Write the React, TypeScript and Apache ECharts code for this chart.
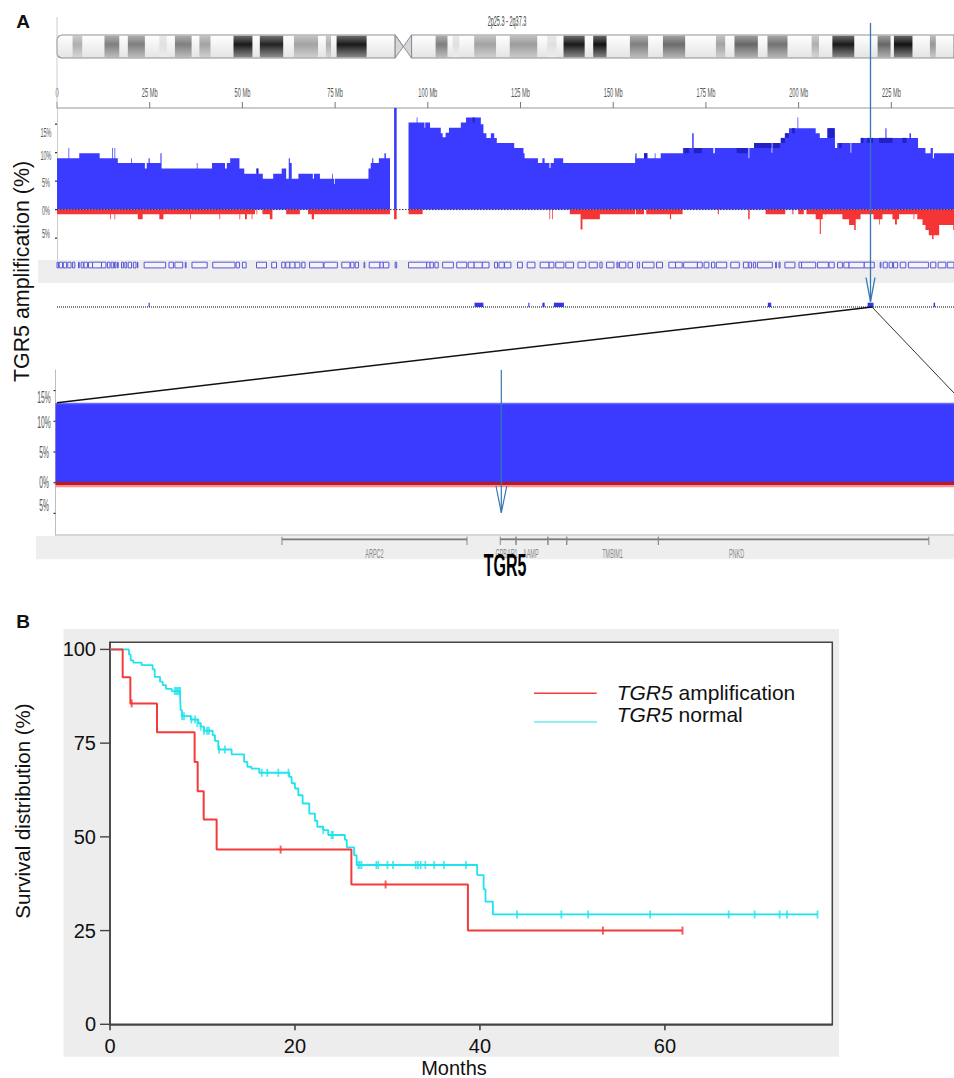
import React, { useEffect, useRef } from "react";
import * as echarts from "echarts";

// ---------- Panel A: whole chromosome (Mb, % of samples) ----------
const chromMaxMb = 241.9;
const rulerTicks = [0, 25, 50, 75, 100, 125, 150, 175, 200, 225];
const topPctTicks = [-5, 0, 5, 10, 15];
const topPctLabels = ["15%", "10%", "5%", "0%", "5%"];
const lowerPctLabels = ["15%", "10%", "5%", "0%", "5%"];

// [start Mb, end Mb, darkness]
const cytobands = [
  [4.2, 6.8, 0.3], [12.8, 16.8, 0.5], [19.1, 23.7, 0.5], [27.6, 29.6, 0.1], [31.8, 36.3, 0.5], [38.4, 41.4, 0.35],
  [47.6, 52.7, 0.92], [54.7, 61, 0.88], [63.9, 70.4, 0.35], [72.5, 73.9, 0.3], [75.4, 83.5, 0.92],
  [102.1, 105.3, 0.5], [106.7, 108.5, 0.1], [112.5, 118.4, 0.35], [122.1, 129.5, 0.38], [132.2, 134.7, 0.1],
  [136.6, 142.3, 0.92], [144.6, 148.2, 0.95], [154.5, 159.4, 0.5], [163.4, 169.4, 0.58], [177.7, 180.2, 0.35],
  [182.7, 189, 0.6], [191.6, 197, 0.55], [203.5, 205.5, 0.3], [209.1, 215, 0.92], [221.3, 224.8, 0.6],
  [225.7, 230.7, 0.95], [235.4, 237, 0.4],
];
const chromArms = [[0, 91.2], [95.6, 241.9]];
const centromere = [91.2, 93.4, 95.6];

// [start Mb, value until next start]; null = nothing drawn
const gainSteps: [number, number | null][] = [
  [0, 9.0], [3.1, 10.8], [3.3, 9.0], [6.0, 9.9], [11.5, 9.0], [14.9, 10.8], [15.1, 9.0], [15.5, 10.8], [15.7, 9.0],
  [16.4, 8.2], [20.0, 9.0], [20.2, 8.2], [23.7, 7.2], [24.2, 8.2], [24.7, 9.0], [25.0, 8.2], [27.9, 9.9], [28.2, 7.2],
  [37.7, 8.2], [37.9, 7.2], [41.8, 8.2], [45.3, 7.2], [45.8, 8.2], [46.7, 9.0], [49.2, 7.2], [50.5, 6.3], [53.8, 7.2],
  [54.3, 6.3], [55.5, 5.4], [58.3, 6.3], [60.6, 7.2], [61.8, 5.4], [62.5, 9.0], [62.8, 8.2], [63.3, 5.4], [65.1, 6.3],
  [69, 5.4], [69.3, 6.3], [70.9, 5.4], [74.2, 6.3], [74.4, 5.4], [74.7, 4.5], [74.9, 5.4], [84, 7.2], [84.6, 8.2],
  [85.0, 9.0], [85.3, 8.2], [86.8, 9.0], [88.3, 9.9], [88.7, 9.0], [89.8, null], [90.9, 17.85], [91.6, null],
  [94.8, 15.3], [97, 16.2], [97.2, 15.3], [99.1, 14.4], [99.3, 15.3], [100.6, 14.4], [103.5, 13.4], [104, 12.7],
  [104.8, 13.5], [105.7, 14.4], [108.9, 15.3], [110.3, 16.2], [114.3, 15.0], [115, 13.4], [115.8, 12.6], [117, 13.4],
  [117.9, 12.6], [118.6, 11.7], [123.3, 10.8], [125.8, 9.9], [126.1, 9.0], [129.7, 8.2], [130.9, 9.0], [131.5, 8.2],
  [132.8, 7.3], [133.1, 8.2], [134, 9.0], [136.5, 8.2], [155.9, 9.0], [156, 9.9], [156.3, 9.0], [158.3, 9.9],
  [159.2, 9.0], [161.2, 9.9], [161.4, 9.0], [162.8, 9.9], [168.8, 10.8], [171.3, 13.4], [171.7, 10.8], [177, 9.9],
  [177.4, 10.8], [186.5, 9.0], [186.7, 10.8], [188, 11.7], [192.7, 10.0], [192.9, 11.7], [195.2, 12.6], [196.3, 13.4],
  [197.4, 14.3], [199.7, 16.2], [199.9, 14.3], [204.6, 13.4], [205.7, 12.6], [207.7, 14.3], [209.8, 10.8], [210.4, 11.7],
  [214, 10.0], [214.2, 11.7], [216.7, 12.6], [223.4, 14.3], [223.7, 12.6], [229.9, 13.4], [230.3, 12.6], [232.2, 10.8],
  [234.2, 9.9], [235.6, 10.8], [236.2, 9.0], [236.5, 9.9], [241.9, null],
];
// [start Mb, end Mb, high %, low %]
const gainDarkBands = [
  [53.8, 54.3, 7.2, 6.3], [112.1, 112.6, 16.2, 15.3], [158.3, 159.2, 9.9, 9.0], [169.2, 170.5, 10.8, 9.9],
  [171.7, 173.9, 10.8, 9.9], [183.3, 186.2, 10.8, 9.9], [188, 192.7, 11.7, 10.8], [193.1, 195, 11.7, 10.8],
  [195.2, 196.3, 12.6, 11.7], [196.3, 197.4, 13.4, 12.6], [198.2, 199, 14.3, 13.4], [207.9, 209.6, 14.3, 12.6],
  [210.9, 211.6, 11.7, 10.8], [216.8, 217.5, 12.6, 11.7], [218.5, 220.1, 12.6, 11.7], [221.7, 225.3, 12.6, 11.7],
  [228, 229.1, 12.6, 11.7],
];
const lossSteps: [number, number | null][] = [
  [0, -0.8], [14.3, -1.7], [14.5, -0.8], [15.5, -1.7], [15.7, -0.8], [21.8, -1.7], [23.1, -0.8], [27.6, -1.7], [28.7, -0.8],
  [35.9, -1.7], [36.1, -0.8], [43.8, -1.7], [44, -0.8], [49.2, -1.7], [49.4, -0.8], [50.7, -1.7], [51.2, -0.8], [52.5, -1.7],
  [52.7, -0.8], [53.4, null], [53.8, -0.8], [54, null], [55.4, -0.8], [57.4, -1.7], [58.1, null], [61.8, -0.8], [65.5, null],
  [67.7, -0.8], [68.7, -1.7], [69.3, -0.8], [89.8, null], [90.9, -1.7], [91.6, null], [94.8, -0.8], [98.6, null],
  [132.8, -1.7], [133, null], [133.5, -1.7], [133.7, null], [138.3, -0.8], [141.2, -3.5], [141.7, -1.7], [146.4, -0.8],
  [155.9, null], [156.1, -0.8], [158.3, null], [158.9, -0.8], [165.3, -1.7], [165.6, -0.8], [168.7, null], [178.2, -0.8],
  [178.5, null], [186.4, -1.7], [186.8, null], [191.1, -0.8], [196.4, null], [198.3, -0.8], [198.6, null], [199.9, -0.8],
  [201.4, null], [202.1, -0.8], [204.6, -1.7], [205.7, -4.3], [206, -1.7], [206.5, -0.8], [207.1, -1.7], [207.2, -0.8],
  [211.8, -1.7], [213.6, -2.7], [215, -3.6], [215.4, -1.7], [216.7, -0.8], [220.2, -1.7], [221.7, -2.6], [221.9, -1.7],
  [222.6, -0.8], [225.3, -1.7], [226, -2.6], [226.5, -1.7], [227.1, -0.8], [231, -1.7], [231.2, -0.8], [232, -1.7],
  [233.4, -2.7], [234.2, -3.6], [235.1, -4.5], [236, -5.2], [236.4, -4.5], [237.9, -2.7], [241.7, -3.6], [241.9, null],
];
const geneBoxes = [
  [0, 0.4], [0.6, 1.5], [1.7, 2.6], [2.9, 3.8], [4.2, 4.8], [5.8, 6], [6.5, 7.1], [7.3, 8.2], [8.5, 9.6], [9.6, 12], [12, 13.2],
  [13.6, 14.3], [14.6, 15.2], [15.5, 15.9], [16.3, 16.5], [17.4, 17.9], [18.3, 18.8], [19.2, 20.1], [20.6, 21.3], [21.7, 21.8],
  [23.5, 29.3], [30.2, 31.4], [31.8, 33.9], [34.6, 34.8], [36.4, 40.5], [42, 48], [48.3, 49.2], [50, 51], [53.8, 56.5], [57.9, 59.2],
  [60.6, 61.5], [61.7, 62.8], [62.8, 64.2], [64.2, 65.5], [66, 66.9], [68.1, 71.8], [72, 75.6], [76.8, 79], [79.2, 80.1], [80.4, 81.3],
  [82.8, 83], [84.2, 87.1], [87.1, 88], [88, 89.5], [91.2, 91.6], [94.8, 99.7], [99.7, 100.6], [100.6, 101.5], [101.9, 102.8],
  [104, 106.9], [107.8, 110.5], [110.9, 112.5], [112.5, 114.7], [114.7, 116.5], [118, 118.8], [119.2, 120.6], [120.7, 122.4],
  [124.2, 125.5], [126.8, 128.9], [130.3, 132.7], [132.7, 134], [134.5, 136.7], [137.2, 139.3], [140.5, 142.6], [143.5, 145.7],
  [146.4, 147], [148.2, 150.2], [151, 151.3], [151.7, 153.4], [154, 155.2], [156.5, 157.1], [157.9, 161], [161.7, 163.3], [165, 166.8],
  [166.8, 168.6], [169, 172.7], [172.7, 174], [174.5, 175.8], [176.5, 177.4], [177.8, 180.6], [181.7, 184], [185.1, 186.4], [186.6, 187.3],
  [187.8, 188.4], [188.9, 192.9], [193.8, 194], [194.7, 195], [196.3, 199], [200.1, 200.8], [200.8, 204.6], [205.1, 208], [208.2, 209.6],
  [210.5, 211.8], [212.2, 213.6], [213.6, 217.7], [217.7, 220.4], [222, 222.2], [222.8, 223.9], [224.4, 225.3], [225.6, 226.7],
  [227.4, 228.9], [229.6, 235], [235.6, 237], [237.6, 239.7], [240.1, 241.9],
];
const stripMarks = [[24.7, 25], [112.6, 115], [127.1, 127.4], [130.9, 131.5], [134, 136.7], [191.7, 192.6], [218.6, 220.2], [236.4, 236.8]];

// ---------- Panel A: zoomed window (relative position, 0-100) ----------
const zoomGain = 12.9;
const zoomLossDark = [0.16, -0.37];
const zoomLossLight = [-0.37, -0.75];
const zoomTicks = [-5, 0, 5, 10, 15];
const genes = ["ARPC2", "GPBAR1", "AAMP", "", "TMBIM1", "PNKD"];
const geneStart = [25.2, 49.5, 51.25, 54.8, 56.9, 67.1];
const geneEnd = [45.8, 51.25, 54.8, 56.9, 67.1, 97.2];
const geneLabelAt = [35.5, 50.2, 52.9, 0, 62, 75.8];

// ---------- Panel B: Kaplan-Meier ----------
const kmTicksX = [0, 20, 40, 60];
const kmTicksY = [0, 25, 50, 75, 100];
const ampMonths = [0, 1.37, 2.2, 5.08, 9.15, 9.48, 10.13, 11.53, 26.1, 38.7, 61.9];
const ampSurv = [100, 92.6, 85.6, 77.9, 70.0, 62.2, 54.6, 46.6, 37.3, 25.0, 25.0];
const ampCensorMonths = [2.34, 18.45, 29.8, 53.3, 61.9];
const ampCensorSurv = [85.6, 46.6, 37.3, 25.0, 25.0];
const normMonths = [
  0, 2.05, 2.23, 2.52, 3.42, 4.61, 4.83, 5.41, 5.7, 6.05, 6.67, 7.57, 7.64, 7.78, 8.72, 9.55, 9.8, 10.16, 11.1, 11.35, 11.71,
  13.15, 14.5, 14.85, 15.3, 16.14, 19.39, 19.64, 20, 20.36, 20.83, 21.55, 22.16, 22.41, 23.06, 23.6, 25.4, 25.6, 26.4, 26.67,
  39.7, 40.4, 40.6, 41.4, 76.5,
];
const normSurv = [
  100, 98.7, 97.1, 96.5, 95.8, 94.7, 92.7, 91.4, 90.5, 89.5, 88.9, 88.0, 83.8, 82.2, 81.3, 80.3, 79.4, 78.3, 77.1, 75.6, 73.3,
  72.0, 70, 68.7, 68.2, 67.1, 66, 64.3, 62.9, 61.1, 58.9, 56.2, 54.3, 52.7, 51.8, 50.5, 49.2, 47.2, 45.1, 42.5,
  39.8, 36, 32.7, 29.3, 29.3,
];
const normCensorMonths = [
  7.0, 7.15, 7.3, 7.45, 7.57, 7.8, 8.0, 8.8, 9.2, 9.45, 9.8, 10.16, 10.5, 10.7, 11.8, 12.43, 16.4, 17, 18.2, 19.3, 23.06, 23.96, 24.1,
  26.85, 27.0, 27.2, 28.8, 29, 30, 30.6, 33.05, 33.3, 33.6, 34.1, 35.06, 36.1, 38.5, 44, 48.8, 51.7, 58.4, 66.9, 69.7, 72.4, 73.2, 76.5,
];
const normCensorSurv = [
  88.9, 88.9, 88.9, 88.9, 88.9, 82.2, 82.2, 81.3, 81.3, 80.3, 79.4, 78.3, 78.3, 78.3, 73.3, 73.3, 67.1, 67.1, 67.1, 67.1, 51.8, 50.5, 50.5,
  42.5, 42.5, 42.5, 42.5, 42.5, 42.5, 42.5, 42.5, 42.5, 42.5, 42.5, 42.5, 42.5, 42.5, 29.3, 29.3, 29.3, 29.3, 29.3, 29.3, 29.3, 29.3, 29.3,
];

const SANS = "'Liberation Sans', Arial, sans-serif";
const BLUE = "#3b3bff";
const DARKBLUE = "#2222c4";
const RED = "#f53535";
const CYAN = "#1fe3ee";
const KMRED = "#f43a3a";
const ARROW = "#3577b2";

// step list -> points of a step line; a null closes the area at that position
function stepPoints(steps: [number, number | null][]) {
  const pts: any[] = [];
  steps.forEach((s, i) => {
    if (s[1] === null) {
      if (i > 0 && steps[i - 1][1] !== null) pts.push([s[0], steps[i - 1][1]]);
      pts.push([s[0], null]);
    } else {
      pts.push([s[0], s[1]]);
    }
  });
  return pts;
}

function box(api: any, x0: number, x1: number, y0: number, y1: number) {
  const a = api.coord([x0, y1]);
  const b = api.coord([x1, y0]);
  return { x: a[0], y: a[1], width: b[0] - a[0], height: b[1] - a[1] };
}

function grayOf(d: number) {
  const g = Math.round(248 * (1 - d) + 6 * d);
  return `rgb(${g},${g},${g})`;
}

function areaSeries(steps: [number, number | null][], color: string, xi: number) {
  return {
    type: "line",
    xAxisIndex: xi,
    yAxisIndex: xi,
    step: "end",
    silent: true,
    symbol: "none",
    showSymbol: false,
    connectNulls: false,
    z: 2,
    data: stepPoints(steps),
    lineStyle: { width: 0, color },
    itemStyle: { color },
    areaStyle: { color, opacity: 1 },
  };
}

// tick marks placed through the axis scale; dx/dy give the outward direction in pixels
function tickSeries(ai: number, values: number[], dim: "x" | "y", at: number, dx: number, dy: number, stroke: string, lineWidth: number) {
  return {
    type: "custom",
    xAxisIndex: ai,
    yAxisIndex: ai,
    silent: true,
    z: 6,
    data: values.map((v) => (dim === "x" ? [v, at] : [at, v])),
    encode: { x: 0, y: 1 },
    renderItem: (_: any, api: any) => {
      const p = api.coord([api.value(0), api.value(1)]);
      return { type: "line", shape: { x1: p[0], y1: p[1], x2: p[0] + dx, y2: p[1] + dy }, style: { stroke, lineWidth } };
    },
  };
}

function squeezed(text: string, x: number, y: number, size: number, scaleX: number, fill: string, weight = "normal") {
  return {
    type: "text",
    x,
    y,
    scaleX,
    z: 20,
    silent: true,
    style: { text, align: "center", verticalAlign: "middle", fontSize: size, fontFamily: SANS, fontWeight: weight, fill },
  };
}

function plainText(text: any, x: number, y: number, size: number, extra: any = {}) {
  return {
    type: "text",
    x,
    y,
    z: 20,
    silent: true,
    ...extra,
    style: { text, align: "center", verticalAlign: "middle", fontSize: size, fontFamily: SANS, fill: "#111", ...(extra.style || {}) },
  };
}

function pixelLine(x1: number, y1: number, x2: number, y2: number, stroke: string, lineWidth: number) {
  return { type: "line", z: 15, silent: true, shape: { x1, y1, x2, y2 }, style: { stroke, lineWidth } };
}

function buildOption() {
  const hiddenX = (gridIndex: number, min: number, max: number) => ({ type: "value", gridIndex, min, max, show: false });
  const hiddenY = (gridIndex: number, min: number, max: number, inverse = false) => ({ type: "value", gridIndex, min, max, show: false, inverse });

  const legendRich = { i: { fontStyle: "italic", fontSize: 21, fontFamily: SANS, fill: "#111" } };
  const graphic: any[] = [
    // background bands
    { type: "rect", z: -5, silent: true, shape: { x: 38, y: 260, width: 916, height: 23 }, style: { fill: "#eeeeee" } },
    { type: "rect", z: -5, silent: true, shape: { x: 36, y: 536, width: 918, height: 23.3 }, style: { fill: "#eeeeee" } },
    { type: "rect", z: -5, silent: true, shape: { x: 63.5, y: 629, width: 775.5, height: 427.7 }, style: { fill: "#ededed" } },
    // panel letters
    plainText("A", 23, 21.5, 19, { style: { fontWeight: "bold" } }),
    plainText("B", 23, 621, 19, { style: { fontWeight: "bold" } }),
    // titles
    plainText("TGR5 amplification (%)", 22, 271.5, 21.4, { rotation: Math.PI / 2 }),
    plainText("Survival distribution (%)", 22, 811, 20.5, { rotation: Math.PI / 2 }),
    plainText("Months", 454, 1068, 20),
    squeezed("2p25.3 - 2q37.3", 507, 21, 14, 0.395, "#444"),
    squeezed("TGR5", 505, 565, 31, 0.515, "#000", "bold"),
    // left rule of the overview
    pixelLine(57, 17, 57, 108, "#cccccc", 1),
    // zoom connector lines
    pixelLine(872, 307, 57, 402.7, "#111", 1.5),
    pixelLine(872, 307, 954, 393, "#333", 1),
    // arrows
    pixelLine(870.5, 23, 870.5, 301.7, ARROW, 1.3),
    { type: "polyline", z: 15, silent: true, shape: { points: [[866, 277.5], [870.5, 301.7], [875, 277.5]] }, style: { stroke: ARROW, fill: "none", lineWidth: 1.3 } },
    pixelLine(501.3, 370, 501.3, 512.7, ARROW, 1.2),
    { type: "polyline", z: 15, silent: true, shape: { points: [[496, 486], [501.3, 512.7], [506.8, 486]] }, style: { stroke: ARROW, fill: "none", lineWidth: 1.2 } },
    // legend of panel B
    pixelLine(534, 693.3, 596.7, 693.3, KMRED, 1.5),
    pixelLine(534, 722, 597, 722, CYAN, 1.2),
    {
      type: "text", z: 20, silent: true, x: 616.7, y: 692,
      style: { text: "{i|TGR5} amplification", align: "left", verticalAlign: "middle", fontSize: 21, fontFamily: SANS, fill: "#111", rich: legendRich },
    },
    {
      type: "text", z: 20, silent: true, x: 616.7, y: 714,
      style: { text: "{i|TGR5} normal", align: "left", verticalAlign: "middle", fontSize: 21, fontFamily: SANS, fill: "#111", rich: legendRich },
    },
  ];
  const topLabelY = [132, 155, 182.7, 210.7, 233];
  topPctLabels.forEach((t, i) => graphic.push(squeezed(t, 46, topLabelY[i], 13.5, 0.41, "#555")));
  const lowerLabelY = [398, 422.7, 453, 483, 506];
  lowerPctLabels.forEach((t, i) => graphic.push(squeezed(t, 44, lowerLabelY[i], 16, 0.42, "#555")));

  return {
    animation: false,
    backgroundColor: "#ffffff",
    graphic,
    grid: [
      { left: 57, top: 35, width: 897, height: 23 },
      { left: 57, top: 108, width: 897, height: 152 },
      { left: 57, top: 260, width: 897, height: 22 },
      { left: 57, top: 302.7, width: 897, height: 4.3 },
      { left: 55.5, top: 370, width: 898.5, height: 165 },
      { left: 55.5, top: 536, width: 898.5, height: 23 },
      { left: 110, top: 642.3, width: 722.3, height: 382, show: true, backgroundColor: "#ffffff", borderColor: "#444", borderWidth: 1.5 },
    ],
    xAxis: [
      hiddenX(0, 0, chromMaxMb),
      {
        type: "value", gridIndex: 1, min: 0, max: chromMaxMb, position: "top",
        axisLine: { show: true, onZero: false, lineStyle: { color: "#bbbbbb", width: 1.5 } },
        axisTick: { show: false },
        axisLabel: { show: false }, splitLine: { show: false },
      },
      hiddenX(2, 0, chromMaxMb),
      hiddenX(3, 0, chromMaxMb),
      {
        type: "value", gridIndex: 4, min: 0, max: 100, position: "bottom",
        axisLine: { show: true, onZero: false, lineStyle: { color: "#c8c8c8", width: 1.5 } },
        axisTick: { show: false }, axisLabel: { show: false }, splitLine: { show: false },
      },
      hiddenX(5, 0, 100),
      {
        type: "value", gridIndex: 6, min: 0, max: 78.1,
        axisLine: { show: true, onZero: false, lineStyle: { color: "#444", width: 1.6 } },
        axisTick: { show: false },
        axisLabel: { fontSize: 20, fontFamily: SANS, color: "#111", margin: 12, customValues: kmTicksX }, splitLine: { show: false },
      },
    ],
    yAxis: [
      hiddenY(0, 0, 1),
      {
        type: "value", gridIndex: 1, min: -8.86, max: 17.85,
        axisLine: { show: true, onZero: false, lineStyle: { color: "#cccccc", width: 1 } },
        axisTick: { show: false },
        axisLabel: { show: false }, splitLine: { show: false },
      },
      hiddenY(2, 0, 1),
      hiddenY(3, 0, 1),
      {
        type: "value", gridIndex: 4, min: -8.52, max: 18.35,
        axisLine: { show: true, onZero: false, lineStyle: { color: "#bdbdbd", width: 1 } },
        axisTick: { show: false },
        axisLabel: { show: false }, splitLine: { show: false },
      },
      hiddenY(5, 0, 23, true),
      {
        type: "value", gridIndex: 6, min: 0, max: 101.9,
        axisLine: { show: true, onZero: false, lineStyle: { color: "#444", width: 1.6 } },
        axisTick: { show: false },
        axisLabel: { fontSize: 20, fontFamily: SANS, color: "#111", margin: 14, customValues: kmTicksY }, splitLine: { show: false },
      },
    ],
    series: [
      // ideogram: arm bodies
      {
        type: "custom", xAxisIndex: 0, yAxisIndex: 0, silent: true, z: 2,
        data: chromArms, encode: { x: [0, 1] },
        renderItem: (p: any, api: any) => ({
          type: "rect",
          shape: { ...box(api, api.value(0), api.value(1), 0, 1), r: p.dataIndex === 0 ? [5, 0, 0, 5] : 0 },
          style: {
            fill: new echarts.graphic.LinearGradient(0, 0, 0, 1, [
              { offset: 0, color: "#ffffff" }, { offset: 1, color: "#e4e4e4" },
            ]),
          },
        }),
      },
      // ideogram: bands
      {
        type: "custom", xAxisIndex: 0, yAxisIndex: 0, silent: true, z: 3,
        data: cytobands, encode: { x: [0, 1] },
        renderItem: (_: any, api: any) => {
          const d = api.value(2);
          return {
            type: "rect",
            shape: box(api, api.value(0), api.value(1), 0.03, 0.97),
            style: {
              fill: new echarts.graphic.LinearGradient(0, 0, 0, 1, [
                { offset: 0, color: grayOf(d * 0.62) },
                { offset: 0.4, color: grayOf(d) },
                { offset: 1, color: grayOf(d * 0.5) },
              ]),
            },
          };
        },
      },
      // ideogram: arm outlines and centromere
      {
        type: "custom", xAxisIndex: 0, yAxisIndex: 0, silent: true, z: 4,
        data: chromArms, encode: { x: [0, 1] },
        renderItem: (p: any, api: any) => ({
          type: "rect",
          shape: { ...box(api, api.value(0), api.value(1), 0, 1), r: p.dataIndex === 0 ? [5, 0, 0, 5] : 0 },
          style: { fill: "none", stroke: "#8f8f8f", lineWidth: 1.2 },
        }),
      },
      {
        type: "custom", xAxisIndex: 0, yAxisIndex: 0, silent: true, z: 4,
        data: [centromere], encode: { x: [0, 1, 2] },
        renderItem: (_: any, api: any) => {
          const [a, m, b] = [api.value(0), api.value(1), api.value(2)];
          return {
            type: "polyline",
            shape: { points: [api.coord([a, 1]), api.coord([m, 0.5]), api.coord([a, 0]), api.coord([a, 1]), api.coord([m, 0.5]), api.coord([b, 1]), api.coord([b, 0]), api.coord([m, 0.5])] },
            style: { fill: "#d4d8dc", stroke: "#8f8f8f", lineWidth: 1 },
          };
        },
      },
      // gain and loss profiles
      areaSeries(gainSteps, BLUE, 1),
      areaSeries(lossSteps, RED, 1),
      {
        type: "custom", xAxisIndex: 1, yAxisIndex: 1, silent: true, z: 3,
        data: gainDarkBands, encode: { x: [0, 1], y: [2, 3] },
        renderItem: (_: any, api: any) => ({
          type: "rect",
          shape: box(api, api.value(0), api.value(1), api.value(3), api.value(2)),
          style: { fill: DARKBLUE },
        }),
      },
      {
        type: "line", xAxisIndex: 1, yAxisIndex: 1, silent: true, z: 4, symbol: "none",
        data: [[0, 0], [chromMaxMb, 0]],
        lineStyle: { color: "#333", width: 1, type: [1.5, 1.5] },
      },
      tickSeries(1, rulerTicks, "x", 17.85, 0, -6, "#777", 1),
      tickSeries(1, topPctTicks, "y", 0, -2, 0, "#333", 1.2),
      tickSeries(4, zoomTicks, "y", 0, -2, 0, "#333", 1.2),
      tickSeries(6, kmTicksX, "x", 0, 0, 6, "#444", 1.6),
      tickSeries(6, kmTicksY, "y", 0, -10, 0, "#444", 1.4),
      // ruler labels (squeezed like the source tracks)
      {
        type: "custom", xAxisIndex: 1, yAxisIndex: 1, silent: true, z: 5,
        data: rulerTicks.map((t) => [t, 0]), encode: { x: 0 },
        renderItem: (_: any, api: any) => {
          const v = api.value(0);
          const pos = api.coord([v, 17.85]);
          return {
            type: "text", x: pos[0], y: pos[1] - 16, scaleX: 0.42,
            style: { text: v === 0 ? "0" : `${v} Mb`, align: "center", verticalAlign: "middle", fontSize: 13.5, fontFamily: SANS, fill: "#555" },
          };
        },
      },
      // gene boxes
      {
        type: "custom", xAxisIndex: 2, yAxisIndex: 2, silent: true, z: 3,
        data: geneBoxes, encode: { x: [0, 1] },
        renderItem: (_: any, api: any) => ({
          type: "rect",
          shape: box(api, api.value(0), api.value(1), 0.64, 0.9),
          style: { fill: "#f4f4f8", stroke: "#5757d8", lineWidth: 1 },
        }),
      },
      // strip of segments
      {
        type: "line", xAxisIndex: 3, yAxisIndex: 3, silent: true, z: 2, symbol: "none",
        data: [[0, 0], [chromMaxMb, 0]],
        lineStyle: { color: "#808080", width: 2, type: [1, 1] },
      },
      {
        type: "custom", xAxisIndex: 3, yAxisIndex: 3, silent: true, z: 3,
        data: stripMarks, encode: { x: [0, 1] },
        renderItem: (_: any, api: any) => ({
          type: "rect",
          shape: box(api, api.value(0), api.value(1), 0, 1),
          style: { fill: "#3535e8" },
        }),
      },
      // zoom window
      {
        type: "custom", xAxisIndex: 4, yAxisIndex: 4, silent: true, z: 2,
        data: [[0, 100, 0, zoomGain], [0, 100, zoomLossLight[1], zoomLossLight[0]], [0, 100, zoomLossDark[1], zoomLossDark[0]]],
        encode: { x: [0, 1], y: [2, 3] },
        renderItem: (p: any, api: any) => {
          const fills = [BLUE, "#ff8f8f", "#b31c2a"];
          return {
            type: "rect",
            shape: box(api, api.value(0), api.value(1), api.value(2), api.value(3)),
            style: { fill: fills[p.dataIndex] },
          };
        },
      },
      {
        type: "line", xAxisIndex: 4, yAxisIndex: 4, silent: true, z: 3, symbol: "none",
        data: [[0, zoomGain], [100, zoomGain]],
        lineStyle: { color: "#6a6eff", width: 1.5 },
      },
      // gene track of the zoom window
      {
        type: "custom", xAxisIndex: 5, yAxisIndex: 5, silent: true, z: 3,
        data: geneStart.map((s, i) => [s, geneEnd[i]]), encode: { x: [0, 1] },
        renderItem: (p: any, api: any) => {
          const a = api.value(0);
          const b = api.value(1);
          return {
            type: "group",
            children: [
              { type: "line", shape: { x1: api.coord([a, 3.3])[0], y1: api.coord([a, 3.3])[1], x2: api.coord([b, 3.3])[0], y2: api.coord([b, 3.3])[1] }, style: { stroke: "#777", lineWidth: 1.8 } },
              { type: "line", shape: { x1: api.coord([a, 0.7])[0], y1: api.coord([a, 0.7])[1], x2: api.coord([a, 9])[0], y2: api.coord([a, 9])[1] }, style: { stroke: "#888", lineWidth: 1 } },
              { type: "line", shape: { x1: api.coord([b, 0.7])[0], y1: api.coord([b, 0.7])[1], x2: api.coord([b, 9])[0], y2: api.coord([b, 9])[1] }, style: { stroke: "#888", lineWidth: 1 } },
            ],
          };
        },
      },
      {
        type: "custom", xAxisIndex: 5, yAxisIndex: 5, silent: true, z: 4,
        data: geneLabelAt.map((x) => [x, 17]), encode: { x: 0, y: 1 },
        renderItem: (p: any, api: any) => {
          const t = genes[p.dataIndex];
          if (!t) return null;
          const pos = api.coord([api.value(0), api.value(1)]);
          return {
            type: "text", x: pos[0], y: pos[1], scaleX: 0.42,
            style: { text: t, align: "center", verticalAlign: "middle", fontSize: 13, fontFamily: SANS, fill: "#888" },
          };
        },
      },
      // Kaplan-Meier curves
      {
        type: "line", name: "TGR5 normal", xAxisIndex: 6, yAxisIndex: 6, step: "end", symbol: "none", silent: true, z: 3,
        data: normMonths.map((m, i) => [m, normSurv[i]]),
        lineStyle: { color: CYAN, width: 1.8 },
      },
      {
        type: "line", name: "TGR5 amplification", xAxisIndex: 6, yAxisIndex: 6, step: "end", symbol: "none", silent: true, z: 4,
        data: ampMonths.map((m, i) => [m, ampSurv[i]]),
        lineStyle: { color: KMRED, width: 2 },
      },
      {
        type: "scatter", xAxisIndex: 6, yAxisIndex: 6, symbol: "rect", symbolSize: [1.8, 8], silent: true, z: 3,
        data: normCensorMonths.map((m, i) => [m, normCensorSurv[i]]),
        itemStyle: { color: CYAN },
      },
      {
        type: "scatter", xAxisIndex: 6, yAxisIndex: 6, symbol: "rect", symbolSize: [2, 8], silent: true, z: 4,
        data: ampCensorMonths.map((m, i) => [m, ampCensorSurv[i]]),
        itemStyle: { color: KMRED },
      },
    ],
  };
}

export default function App() {
  const ref = useRef<HTMLDivElement>(null);
  useEffect(() => {
    document.body.style.margin = "0";
    document.body.style.background = "#fff";
    const chart = echarts.init(ref.current!, undefined, { renderer: "svg" });
    chart.setOption(buildOption() as any);
    return () => chart.dispose();
  }, []);
  return <div ref={ref} style={{ width: 954, height: 1078 }} />;
}
